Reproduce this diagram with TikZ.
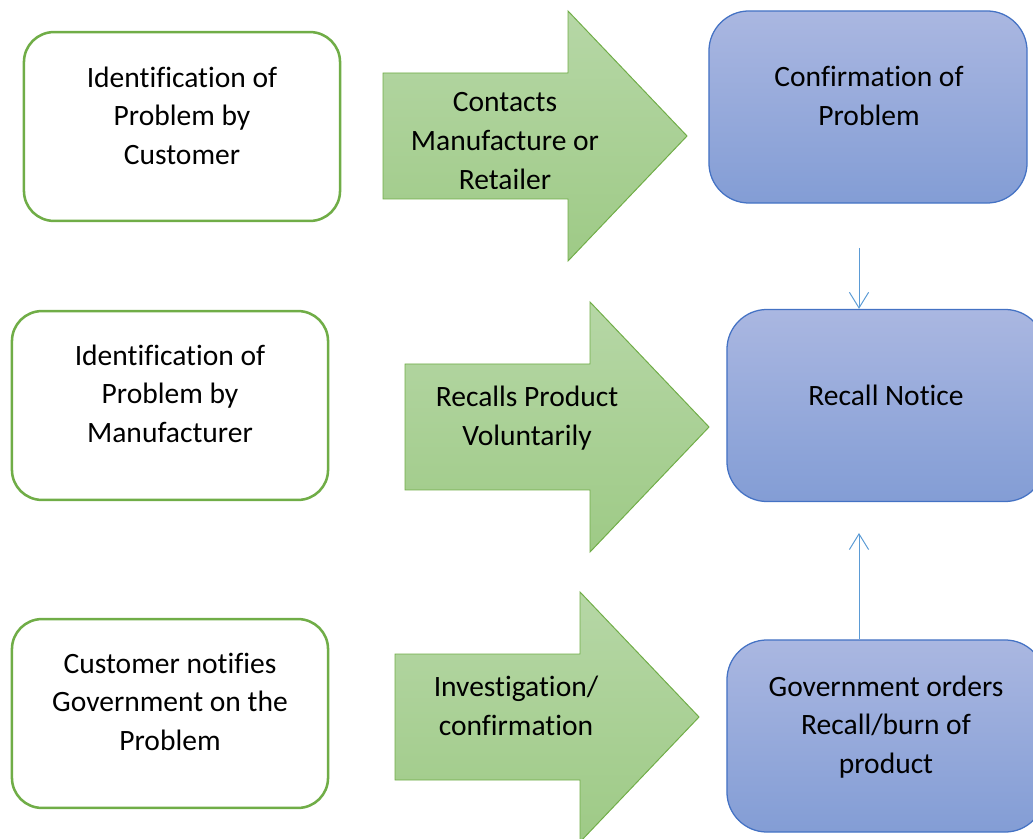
\documentclass[tikz,border=0pt]{standalone}
\usepackage{fontspec}
\setmainfont{Carlito}[Ligatures=CommonOff]
\usetikzlibrary{arrows.meta}

\definecolor{idgreen}{RGB}{112,173,71}
\definecolor{arrowtop}{RGB}{182,215,166}
\definecolor{arrowbot}{RGB}{158,202,134}
\definecolor{boxtop}{RGB}{170,183,225}
\definecolor{boxbot}{RGB}{131,157,213}
\definecolor{boxline}{RGB}{68,114,196}
\definecolor{linkblue}{RGB}{91,155,213}

\tikzset{every picture/.style={
  >={Straight Barb[length=0.39cm,width=0.48cm]}   % Open arrow heads.
  }
}

\begin{document}
\begin{tikzpicture}[
    x=0.025cm,y=-0.025cm,
    ident/.style={
      draw=idgreen,
      line width=1.8pt,
      rounded corners=0.75cm,
      fill=white,
      minimum width=7.9cm,
      minimum height=4.72cm
    },
    recall/.style={
      draw=boxline,
      line width=0.9pt,
      rounded corners=1cm,
      top color=boxtop,
      bottom color=boxbot,
      minimum width=7.95cm,
      minimum height=4.8cm
    },
    lbl/.style={align=center,inner sep=0pt,font=\fontsize{21}{27.4}\selectfont},
    blk/.style={draw=idgreen,line width=0.7pt,top color=arrowtop,bottom color=arrowbot},
    link/.style={->,draw=linkblue,line width=0.7pt}
  ]

    \clip (0,0) rectangle (1033,839);

    % The three ways a problem gets noticed.
    \node[ident] (cust) at (182,126.5) {};
    \node[lbl] (custtxt) at (182,115.5) {Identification of\\Problem by\\Customer};
    \node[ident] (mfr) at (170,405.5) {};
    \node[lbl] (mfrtxt) at (170,393.5) {Identification of\\Problem by\\Manufacturer};
    \node[ident] (gov) at (170,713.5) {};
    \node[lbl] (govtxt) at (170,701.5) {Customer notifies\\Government on the\\Problem};

    % Block arrows: tail x / centre y.
    \foreach \tx/\cy in {383/136,405/427,395/717} {
      \draw[blk] ({\tx},{\cy-63}) -- ({\tx+185},{\cy-63}) -- ({\tx+185},{\cy-125})
        -- ({\tx+304},{\cy}) -- ({\tx+185},{\cy+125}) -- ({\tx+185},{\cy+63})
        -- ({\tx},{\cy+63}) -- cycle;
    };

    % .. and their labels (the first one is cut off at the bottom).
    \begin{scope}
      \clip (383,0) rectangle (690,189);
      \node[lbl] (contacts) at (505,141) {Contacts\\Manufacture or\\Retailer};
    \end{scope}
    \node[lbl] (volunt) at (527,418) {Recalls Product\\Voluntarily};
    \node[lbl] (invest) at (516,706) {Investigation/\\confirmation};

    % What happens next.
    \node[recall] (confirm) at (868,107) {};
    \node[lbl] (confirmtxt) at (869,96) {Confirmation of\\Problem};
    \node[recall] (notice) at (886,405.5) {};
    \node[lbl] (noticetxt) at (886,395) {Recall Notice};
    \node[recall] (orders) at (886,736) {};
    \node[lbl] (orderstxt) at (886,727) {Government orders\\Recall/burn of\\product};

    % Links into the recall notice.
    \coordinate (down) at (859,248);
    \draw[link] (down) -- (down |- notice.north);
    \coordinate (up) at (859,533);
    \draw[link] (up |- orders.north) -- (up);
  \end{tikzpicture}
\end{document}
